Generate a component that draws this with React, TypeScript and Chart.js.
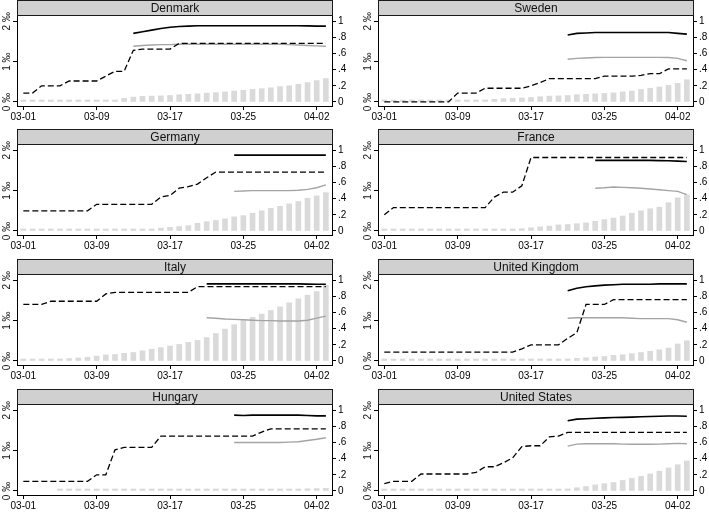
import React, { useEffect, useRef } from 'react';
import { Chart, registerables } from 'chart.js';
Chart.register(...registerables);

const dates = ['03-01','03-02','03-03','03-04','03-05','03-06','03-07','03-08','03-09','03-10','03-11','03-12','03-13','03-14','03-15','03-16','03-17','03-18','03-19','03-20','03-21','03-22','03-23','03-24','03-25','03-26','03-27','03-28','03-29','03-30','03-31','04-01','04-02','04-03'];
const xTickIndex = [0, 8, 16, 24, 32];
const leftTicks = [0, 1, 2];
const leftTickLabels = ['0 ‰', '1 ‰', '2 ‰'];
const rightTicks = [0, 0.2, 0.4, 0.6, 0.8, 1];
const rightTickLabels = ['0', '.2', '.4', '.6', '.8', '1'];

// Denmark
const dkCases = [0.005,0.005,0.005,0.007,0.01,0.01,0.01,0.02,0.02,0.02,0.04,0.09,0.12,0.14,0.145,0.15,0.16,0.18,0.19,0.2,0.22,0.23,0.25,0.27,0.29,0.31,0.33,0.35,0.38,0.4,0.44,0.48,0.53,0.58];
const dkPolicy = [0.11,0.11,0.2,0.2,0.2,0.26,0.26,0.26,0.26,0.32,0.38,0.38,0.64,0.655,0.655,0.655,0.655,0.726,0.726,0.726,0.726,0.726,0.726,0.726,0.726,0.726,0.726,0.726,0.726,0.726,0.726,0.726,0.726,0.726];
const dkBlack = [null,null,null,null,null,null,null,null,null,null,null,null,0.85,0.87,0.89,0.91,0.925,0.935,0.94,0.945,0.945,0.945,0.945,0.945,0.945,0.945,0.945,0.945,0.945,0.945,0.945,0.943,0.94,0.94];
const dkGray = [null,null,null,null,null,null,null,null,null,null,null,null,0.69,0.7,0.705,0.71,0.71,0.715,0.715,0.715,0.715,0.715,0.715,0.715,0.715,0.715,0.715,0.715,0.715,0.71,0.705,0.7,0.695,0.69];

// Sweden
const seCases = [0.001,0.001,0.002,0.003,0.005,0.01,0.015,0.02,0.025,0.03,0.04,0.05,0.065,0.08,0.09,0.1,0.11,0.13,0.145,0.15,0.16,0.18,0.19,0.2,0.21,0.225,0.25,0.27,0.31,0.34,0.37,0.41,0.46,0.55];
const sePolicy = [0,0,0,0,0,0,0,0,0.11,0.11,0.11,0.17,0.17,0.17,0.17,0.17,0.2,0.24,0.29,0.29,0.29,0.29,0.29,0.29,0.32,0.32,0.32,0.32,0.33,0.35,0.35,0.41,0.41,0.41];
const seBlack = [null,null,null,null,null,null,null,null,null,null,null,null,null,null,null,null,null,null,null,null,0.83,0.85,0.855,0.86,0.86,0.86,0.86,0.86,0.86,0.86,0.86,0.86,0.85,0.84];
const seGray = [null,null,null,null,null,null,null,null,null,null,null,null,null,null,null,null,null,null,null,null,0.53,0.54,0.545,0.55,0.552,0.552,0.552,0.552,0.552,0.552,0.552,0.55,0.54,0.51];

// Germany
const deCases = [0.001,0.001,0.002,0.002,0.003,0.005,0.008,0.01,0.012,0.015,0.02,0.025,0.03,0.04,0.05,0.07,0.09,0.11,0.13,0.19,0.23,0.26,0.3,0.35,0.38,0.44,0.5,0.56,0.61,0.67,0.73,0.81,0.87,0.95];
const dePolicy = [0.25,0.25,0.25,0.25,0.25,0.25,0.25,0.25,0.33,0.33,0.33,0.33,0.33,0.33,0.33,0.42,0.44,0.53,0.55,0.58,0.66,0.73,0.73,0.73,0.73,0.73,0.73,0.73,0.73,0.73,0.73,0.73,0.73,0.73];
const deBlack = [null,null,null,null,null,null,null,null,null,null,null,null,null,null,null,null,null,null,null,null,null,null,null,0.94,0.94,0.94,0.94,0.94,0.94,0.94,0.94,0.94,0.94,0.94];
const deGray = [null,null,null,null,null,null,null,null,null,null,null,null,null,null,null,null,null,null,null,null,null,null,null,0.49,0.495,0.5,0.5,0.5,0.5,0.5,0.505,0.515,0.535,0.57];

// France
const frCases = [0.001,0.002,0.003,0.004,0.005,0.006,0.008,0.011,0.018,0.02,0.025,0.03,0.04,0.045,0.05,0.056,0.08,0.1,0.12,0.15,0.16,0.18,0.2,0.24,0.28,0.32,0.37,0.44,0.5,0.55,0.59,0.7,0.82,0.89];
const frPolicy = [0.2,0.29,0.29,0.29,0.29,0.29,0.29,0.29,0.29,0.29,0.29,0.29,0.42,0.48,0.48,0.56,0.91,0.91,0.91,0.91,0.91,0.91,0.91,0.91,0.91,0.91,0.91,0.91,0.91,0.91,0.91,0.91,0.91,0.91];
const frBlack = [null,null,null,null,null,null,null,null,null,null,null,null,null,null,null,null,null,null,null,null,null,null,null,0.875,0.875,0.875,0.875,0.875,0.875,0.875,0.872,0.87,0.865,0.86];
const frGray = [null,null,null,null,null,null,null,null,null,null,null,null,null,null,null,null,null,null,null,null,null,null,null,0.53,0.535,0.545,0.54,0.535,0.53,0.52,0.51,0.5,0.49,0.45];

// Italy
const itCases = [0.016,0.02,0.028,0.04,0.05,0.06,0.075,0.09,0.12,0.15,0.16,0.19,0.21,0.25,0.29,0.33,0.37,0.41,0.46,0.51,0.58,0.68,0.79,0.9,1.0,1.08,1.16,1.25,1.34,1.44,1.54,1.63,1.72,1.88];
const itPolicy = [0.7,0.7,0.7,0.74,0.74,0.74,0.74,0.74,0.74,0.83,0.85,0.85,0.85,0.85,0.85,0.85,0.85,0.85,0.85,0.92,0.92,0.92,0.92,0.92,0.92,0.92,0.92,0.92,0.92,0.92,0.92,0.92,0.92,0.92];
const itBlack = [null,null,null,null,null,null,null,null,null,null,null,null,null,null,null,null,null,null,null,null,0.955,0.955,0.955,0.955,0.955,0.955,0.955,0.955,0.955,0.955,0.955,0.952,0.95,0.95];
const itGray = [null,null,null,null,null,null,null,null,null,null,null,null,null,null,null,null,null,null,null,null,0.535,0.53,0.52,0.515,0.51,0.505,0.5,0.5,0.495,0.495,0.495,0.505,0.53,0.555];

// United Kingdom
const ukCases = [0.0005,0.0006,0.0008,0.001,0.0017,0.0025,0.003,0.004,0.005,0.006,0.006,0.007,0.009,0.012,0.017,0.02,0.024,0.03,0.04,0.045,0.05,0.065,0.08,0.1,0.11,0.14,0.155,0.18,0.21,0.24,0.275,0.32,0.42,0.5];
const ukPolicy = [0.11,0.11,0.11,0.11,0.11,0.11,0.11,0.11,0.11,0.11,0.11,0.11,0.11,0.11,0.11,0.15,0.2,0.2,0.2,0.2,0.28,0.35,0.7,0.7,0.7,0.76,0.76,0.76,0.76,0.76,0.76,0.76,0.76,0.76];
const ukBlack = [null,null,null,null,null,null,null,null,null,null,null,null,null,null,null,null,null,null,null,null,0.87,0.9,0.92,0.93,0.94,0.945,0.95,0.95,0.95,0.95,0.955,0.955,0.955,0.955];
const ukGray = [null,null,null,null,null,null,null,null,null,null,null,null,null,null,null,null,null,null,null,null,0.53,0.535,0.535,0.535,0.535,0.535,0.535,0.53,0.525,0.525,0.525,0.525,0.51,0.48];

// Hungary
const huCases = [null,null,null,null,0.001,0.001,0.001,0.001,0.001,0.001,0.001,0.002,0.002,0.003,0.003,0.004,0.005,0.006,0.008,0.009,0.009,0.01,0.013,0.015,0.02,0.025,0.03,0.03,0.04,0.045,0.05,0.055,0.06,0.065];
const huPolicy = [0.12,0.12,0.12,0.12,0.12,0.12,0.12,0.12,0.2,0.2,0.51,0.54,0.54,0.54,0.54,0.68,0.68,0.68,0.68,0.68,0.68,0.68,0.68,0.68,0.68,0.68,0.73,0.77,0.77,0.77,0.77,0.77,0.77,0.77];
const huBlack = [null,null,null,null,null,null,null,null,null,null,null,null,null,null,null,null,null,null,null,null,null,null,null,0.94,0.935,0.94,0.94,0.94,0.94,0.94,0.94,0.935,0.93,0.93];
const huGray = [null,null,null,null,null,null,null,null,null,null,null,null,null,null,null,null,null,null,null,null,null,null,null,0.6,0.6,0.6,0.6,0.6,0.6,0.605,0.61,0.625,0.64,0.66];

// United States
const usCases = [0.0001,0.0002,0.0003,0.0004,0.0006,0.0008,0.001,0.0015,0.002,0.003,0.003,0.004,0.005,0.007,0.009,0.011,0.014,0.02,0.03,0.045,0.05,0.08,0.11,0.15,0.18,0.21,0.26,0.31,0.36,0.42,0.49,0.57,0.65,0.745];
const usPolicy = [0.09,0.12,0.12,0.12,0.21,0.21,0.21,0.21,0.21,0.21,0.23,0.3,0.3,0.35,0.41,0.55,0.56,0.56,0.67,0.68,0.725,0.725,0.725,0.725,0.725,0.725,0.725,0.725,0.725,0.725,0.725,0.725,0.725,0.725];
const usBlack = [null,null,null,null,null,null,null,null,null,null,null,null,null,null,null,null,null,null,null,null,0.87,0.89,0.895,0.9,0.905,0.91,0.912,0.915,0.92,0.922,0.925,0.928,0.928,0.925];
const usGray = [null,null,null,null,null,null,null,null,null,null,null,null,null,null,null,null,null,null,null,null,0.555,0.58,0.585,0.585,0.585,0.585,0.58,0.578,0.578,0.578,0.58,0.585,0.59,0.585];

const panels = [
  { name: 'Denmark', cases: dkCases, policy: dkPolicy, black: dkBlack, gray: dkGray },
  { name: 'Sweden', cases: seCases, policy: sePolicy, black: seBlack, gray: seGray },
  { name: 'Germany', cases: deCases, policy: dePolicy, black: deBlack, gray: deGray },
  { name: 'France', cases: frCases, policy: frPolicy, black: frBlack, gray: frGray },
  { name: 'Italy', cases: itCases, policy: itPolicy, black: itBlack, gray: itGray },
  { name: 'United Kingdom', cases: ukCases, policy: ukPolicy, black: ukBlack, gray: ukGray },
  { name: 'Hungary', cases: huCases, policy: huPolicy, black: huBlack, gray: huGray },
  { name: 'United States', cases: usCases, policy: usPolicy, black: usBlack, gray: usGray },
];

const FONT = "'Liberation Sans', Arial, Helvetica, sans-serif";
const rowTops = [0, 129, 259, 389];
const rowHeights = [129, 130, 130, 123];
const colLefts = [0, 354];
const colWidths = [354, 355];
const leftAxisWidths = [17, 24];
const rightAxisWidths = [22, 16];
const PLOT_TOP = 16;
const PLOT_BOTTOM = 106;

function Panel(props: any) {
  const { name, cases, policy, black, gray, left, top, width, height, leftW, rightW } = props;
  const ref = useRef<HTMLCanvasElement | null>(null);
  useEffect(() => {
    const toPts = (arr: (number | null)[]) => arr.map((v, i) => ({ x: i, y: v }));
    const headerPlugin = {
      id: 'header',
      afterDraw(chart: any) {
        const { ctx, chartArea } = chart;
        ctx.save();
        const l = Math.round(chartArea.left) + 0.5;
        const r = Math.round(chartArea.right) + 0.5;
        ctx.fillStyle = '#d0d0d0';
        ctx.fillRect(l, 0.5, r - l, PLOT_TOP - 1);
        ctx.strokeStyle = '#1a1a1a';
        ctx.lineWidth = 1;
        ctx.strokeRect(l, 0.5, r - l, PLOT_TOP - 1);
        ctx.fillStyle = '#111';
        ctx.font = `12px ${FONT}`;
        ctx.textAlign = 'center';
        ctx.textBaseline = 'middle';
        ctx.fillText(name, (l + r) / 2, 8.5);
        const yl = chart.scales.yl;
        ctx.font = `10px ${FONT}`;
        leftTicks.forEach((v, i) => {
          const y = yl.getPixelForValue(v);
          ctx.save();
          ctx.translate(yl.right - 10, y);
          ctx.rotate(-Math.PI / 2);
          ctx.fillText(leftTickLabels[i], 0, 0);
          ctx.restore();
        });
        ctx.restore();
      },
    };
    const chart = new Chart(ref.current as HTMLCanvasElement, {
      type: 'bar',
      data: {
        datasets: [
          { type: 'line', data: toPts(black), yAxisID: 'yr', borderColor: '#000', borderWidth: 1.6, pointRadius: 0, tension: 0, spanGaps: false } as any,
          { type: 'line', data: toPts(policy), yAxisID: 'yr', borderColor: '#000', borderWidth: 1.3, borderDash: [6, 3], pointRadius: 0, tension: 0 } as any,
          { type: 'line', data: toPts(gray), yAxisID: 'yr', borderColor: '#a4a4a4', borderWidth: 1.4, pointRadius: 0, tension: 0, spanGaps: false } as any,
          { type: 'bar', data: toPts(cases), yAxisID: 'yl', backgroundColor: '#dadada', barThickness: 5, minBarLength: 2, borderWidth: 0 } as any,
        ],
      },
      options: {
        animation: false,
        responsive: false,
        maintainAspectRatio: false,
        devicePixelRatio: 1,
        layout: { padding: { top: PLOT_TOP, left: 0, right: 0, bottom: 0 } },
        plugins: { legend: { display: false }, tooltip: { enabled: false }, title: { display: false } },
        scales: {
          x: {
            type: 'linear',
            min: -0.69,
            max: 33.67,
            offset: false,
            position: 'bottom',
            afterBuildTicks: (s: any) => { s.ticks = xTickIndex.map((v) => ({ value: v })); },
            afterFit: (s: any) => { s.height = height - PLOT_BOTTOM; },
            ticks: { callback: (v: any) => dates[Math.round(Number(v))], font: { size: 10, family: FONT }, color: '#000', padding: 1, maxRotation: 0, minRotation: 0, autoSkip: false },
            grid: { drawOnChartArea: false, offset: false, tickLength: 4, color: '#000', tickWidth: 1 },
            border: { display: true, color: '#000', width: 1 },
          },
          yl: {
            type: 'linear',
            position: 'left',
            min: -0.1,
            max: 2.13,
            afterBuildTicks: (s: any) => { s.ticks = leftTicks.map((v) => ({ value: v })); },
            afterFit: (s: any) => { s.width = leftW; },
            ticks: { display: false },
            grid: { drawOnChartArea: false, tickLength: 4, color: '#000' },
            border: { display: true, color: '#000', width: 1 },
          },
          yr: {
            type: 'linear',
            position: 'right',
            min: -0.05,
            max: 1.065,
            afterBuildTicks: (s: any) => { s.ticks = rightTicks.map((v) => ({ value: v })); },
            afterFit: (s: any) => { s.width = rightW; },
            ticks: { callback: (_v: any, i: number) => rightTickLabels[i], font: { size: 10, family: FONT }, color: '#000', padding: 2 },
            grid: { drawOnChartArea: false, tickLength: 4, color: '#000' },
            border: { display: true, color: '#000', width: 1 },
          },
        },
      } as any,
      plugins: [headerPlugin],
    });
    return () => chart.destroy();
  }, []);
  return (
    <canvas
      ref={ref}
      width={width}
      height={height}
      style={{ position: 'absolute', left, top, width, height, display: 'block' }}
    />
  );
}

export default function App() {
  return (
    <div style={{ position: 'absolute', left: 0, top: 0, width: 709, height: 512, overflow: 'hidden', background: '#fff' }}>
      {panels.map((p, idx) => {
        const row = Math.floor(idx / 2);
        const col = idx % 2;
        return (
          <Panel
            key={p.name}
            {...p}
            left={colLefts[col]}
            top={rowTops[row]}
            width={colWidths[col]}
            height={rowHeights[row]}
            leftW={leftAxisWidths[col]}
            rightW={rightAxisWidths[col]}
          />
        );
      })}
    </div>
  );
}
